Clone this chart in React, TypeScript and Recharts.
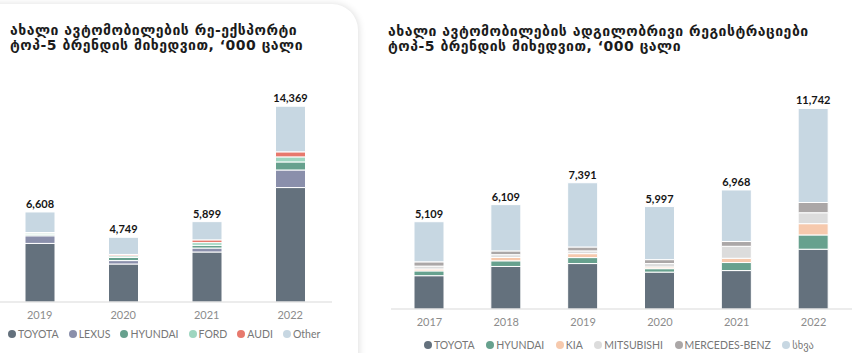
import { BarChart, Bar, XAxis, YAxis, LabelList } from 'recharts';

const reYears = ['2019', '2020', '2021', '2022'];
const reToyota = [4300, 2790, 3670, 8400];
const reLexus = [560, 250, 290, 1290];
const reHyundai = [80, 230, 200, 590];
const reFord = [120, 120, 200, 370];
const reAudi = [40, 100, 200, 370];
const reOther = [1508, 1259, 1339, 3349];
const reTotals = [6608, 4749, 5899, 14369];

const lrYears = ['2017', '2018', '2019', '2020', '2021', '2022'];
const lrToyota = [1950, 2490, 2660, 2160, 2250, 3500];
const lrHyundai = [280, 330, 350, 200, 470, 835];
const lrKia = [110, 200, 230, 100, 250, 660];
const lrMitsubishi = [170, 160, 160, 200, 700, 640];
const lrMercedes = [250, 220, 230, 230, 280, 600];
const lrOther = [2349, 2709, 3761, 3107, 3018, 5507];
const lrTotals = [5109, 6109, 7391, 5997, 6968, 11742];

const C = {
    toyota: '#64717d',
    lexus: '#8a8fab',
    hyundai: '#67a18e',
    ford: '#9ed6c0',
    audi: '#e7796d',
    other: '#c7d7e2',
    kia: '#f6c9ad',
    mitsubishi: '#dcdcdc',
    mercedes: '#aba7a7',
};

const reData = reYears.map((year, i) => ({
    year,
    toyota: reToyota[i],
    lexus: reLexus[i],
    hyundai: reHyundai[i],
    ford: reFord[i],
    audi: reAudi[i],
    other: reOther[i],
    total: reTotals[i],
}));

const lrData = lrYears.map((year, i) => ({
    year,
    toyota: lrToyota[i],
    hyundai: lrHyundai[i],
    kia: lrKia[i],
    mitsubishi: lrMitsubishi[i],
    mercedes: lrMercedes[i],
    other: lrOther[i],
    total: lrTotals[i],
}));

const reSeries = [
    { key: 'toyota', name: 'TOYOTA', color: C.toyota },
    { key: 'lexus', name: 'LEXUS', color: C.lexus },
    { key: 'hyundai', name: 'HYUNDAI', color: C.hyundai },
    { key: 'ford', name: 'FORD', color: C.ford },
    { key: 'audi', name: 'AUDI', color: C.audi },
    { key: 'other', name: 'Other', color: C.other },
];

const lrSeries = [
    { key: 'toyota', name: 'TOYOTA', color: C.toyota },
    { key: 'hyundai', name: 'HYUNDAI', color: C.hyundai },
    { key: 'kia', name: 'KIA', color: C.kia },
    { key: 'mitsubishi', name: 'MITSUBISHI', color: C.mitsubishi },
    { key: 'mercedes', name: 'MERCEDES-BENZ', color: C.mercedes },
    { key: 'other', name: 'სხვა', color: C.other },
];

const FONT = 'Lato, "DejaVu Sans", sans-serif';
const TITLE_FONT = '"DejaVu Sans", sans-serif';

const fmt = (v: any) => Number(v).toLocaleString('en-US');

function Legend({ items, left, top, gap }: { items: { name: string; color: string }[]; left: number; top: number; gap: number }) {
    return (
        <div style={{ position: 'absolute', left, top, display: 'flex', alignItems: 'center', gap, fontFamily: FONT, fontSize: 10.5, color: '#777', lineHeight: '12px' }}>
            {items.map((s) => (
                <div key={s.name} style={{ display: 'flex', alignItems: 'center' }}>
                    <span style={{ width: 8, height: 8, borderRadius: 4, background: s.color, marginRight: 2, display: 'inline-block' }} />
                    <span>{s.name}</span>
                </div>
            ))}
        </div>
    );
}

function Title({ lines, left, top }: { lines: string[]; left: number; top: number }) {
    return (
        <div style={{ position: 'absolute', left, top, fontFamily: TITLE_FONT, fontWeight: 700, fontSize: 14, letterSpacing: 0.5, lineHeight: '15px', color: '#1b1b1b', whiteSpace: 'nowrap' }}>
            {lines.map((l) => (
                <div key={l}>{l}</div>
            ))}
        </div>
    );
}

function Stack({ data, series, width, height, top, domainMax, barSize }: any) {
    return (
        <BarChart width={width} height={height} data={data} margin={{ top, right: 0, bottom: 0, left: 0 }}>
            <XAxis
                dataKey="year"
                height={20}
                tickLine={false}
                axisLine={{ stroke: '#d9d9d9' }}
                tickSize={6}
                tickMargin={3}
                tick={{ fill: '#8c8c8c', fontSize: 11, fontFamily: FONT }}
            />
            <YAxis hide domain={[0, domainMax]} />
            {series.map((s: any) => (
                <Bar key={s.key} dataKey={s.key} stackId="a" fill={s.color} stroke="#fff" strokeWidth={1} barSize={barSize} isAnimationActive={false}>
                    {s.key === 'other' && (
                        <LabelList
                            dataKey="total"
                            position="top"
                            offset={4}
                            formatter={fmt}
                            fill="#151515"
                            fontSize={11}
                            fontWeight={700}
                            fontFamily={FONT}
                        />
                    )}
                </Bar>
            ))}
        </BarChart>
    );
}

export default function App() {
    return (
        <div style={{ position: 'absolute', left: 0, top: 0, width: 853, height: 353, overflow: 'hidden', background: '#fff' }}>
            <div style={{ position: 'absolute', left: -30, top: 4, width: 388, height: 420, borderRadius: 26, background: '#fff', boxShadow: '1px 0 7px rgba(0,0,0,0.13)' }} />
            <Title left={10} top={23} lines={['ახალი ავტომობილების რე-ექსპორტი', 'ტოპ-5 ბრენდის მიხედვით, ‘000 ცალი']} />
            <Title left={388} top={24} lines={['ახალი ავტომობილების ადგილობრივი რეგისტრაციები', 'ტოპ-5 ბრენდის მიხედვით, ‘000 ცალი']} />
            <div style={{ position: 'absolute', left: -2, top: 0 }}>
                <Stack data={reData} series={reSeries} width={334} height={322} top={84} domainMax={16000} barSize={30} />
            </div>
            <div style={{ position: 'absolute', left: 391, top: 0 }}>
                <Stack data={lrData} series={lrSeries} width={461} height={329} top={104} domainMax={12000} barSize={30} />
            </div>
            <Legend items={reSeries} left={8} top={328} gap={10} />
            <Legend items={lrSeries} left={424} top={339} gap={11.5} />
        </div>
    );
}
